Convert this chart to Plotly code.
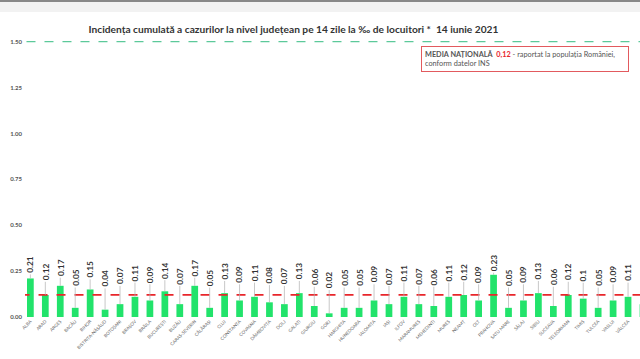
import plotly.graph_objects as go

counties = ["ALBA", "ARAD", "ARGEȘ", "BACĂU", "BIHOR", "BISTRIȚA-NĂSĂUD", "BOTOȘANI", "BRAȘOV",
            "BRĂILA", "BUCUREȘTI", "BUZĂU", "CARAȘ-SEVERIN", "CĂLĂRAȘI", "CLUJ", "CONSTANȚA",
            "COVASNA", "DÂMBOVIȚA", "DOLJ", "GALAȚI", "GIURGIU", "GORJ", "HARGHITA", "HUNEDOARA",
            "IALOMIȚA", "IAȘI", "ILFOV", "MARAMUREȘ", "MEHEDINȚI", "MUREȘ", "NEAMȚ", "OLT",
            "PRAHOVA", "SATU MARE", "SĂLAJ", "SIBIU", "SUCEAVA", "TELEORMAN", "TIMIȘ", "TULCEA",
            "VASLUI", "VÂLCEA", "VRANCEA"]
values = [0.21, 0.12, 0.17, 0.05, 0.15, 0.04, 0.07, 0.11, 0.09, 0.14, 0.07, 0.17, 0.05, 0.13,
          0.09, 0.11, 0.08, 0.07, 0.13, 0.06, 0.02, 0.05, 0.05, 0.09, 0.07, 0.11, 0.07, 0.06,
          0.11, 0.12, 0.09, 0.23, 0.05, 0.09, 0.13, 0.06, 0.12, 0.10, 0.05, 0.09, 0.11, 0.07]
national_avg = 0.12
threshold = 1.5
y_ticks = [0.0, 0.25, 0.5, 0.75, 1.0, 1.25, 1.5]
title = "Incidența cumulată a cazurilor la nivel județean pe 14 zile la ‰ de locuitori *  14 iunie 2021"

idx = list(range(len(counties)))
PX_PER_UNIT = 184.0

fig = go.Figure()
fig.add_trace(go.Bar(x=idx, y=values, marker_color="#22E36B", width=0.45,
                     marker_line_width=0, showlegend=False, hoverinfo="skip"))

xr = [-0.36, 40.8]
fig.add_shape(type="line", xref="x", yref="y", x0=xr[0] - 0.3, x1=xr[1], y0=national_avg, y1=national_avg,
              line=dict(color="#E8262B", width=1.8, dash="dash"))
fig.add_shape(type="line", xref="x", yref="y", x0=xr[0] + 0.1, x1=xr[1], y0=threshold, y1=threshold,
              line=dict(color="#5CC99A", width=1.2, dash="dash"))

for i, v in zip(idx, values):
    t = f"{v:g}"
    base = max(v + 0.01, 0.15 + 0.45 * v)
    half = 1.8 * len(t) + 0.5
    ay = -((base - v) * PX_PER_UNIT + half)
    fig.add_annotation(x=i, y=v, xref="x", yref="y", text=f"<b>{t}</b>", textangle=-90,
                       showarrow=True, arrowhead=0, arrowwidth=0.7, arrowcolor="#B0B0B0",
                       ax=0, ay=ay, standoff=0,
                       font=dict(family="Lato, Carlito, sans-serif", size=8.3, color="#333333"))

fig.add_annotation(xref="paper", yref="paper", x=0.644, y=0.971, xanchor="left", yanchor="top",
                   align="left", showarrow=False,
                   text=("<b>MEDIA NAȚIONALĂ</b>  <b><span style='color:#E8262B'>0,12</span></b>"
                         " - raportat la populația României,<br>conform datelor INS"),
                   font=dict(family="Lato, sans-serif", size=7.3, color="#555555"),
                   bordercolor="#E25A5E", borderwidth=1, borderpad=3, bgcolor="white",
                   width=200)

fig.update_layout(
    width=640, height=359,
    margin=dict(l=25, r=0, t=38, b=42, autoexpand=False),
    paper_bgcolor="white", plot_bgcolor="white",
    title=dict(text=f"<b>{title}</b>", x=0.4366, xanchor="center", xref="paper", y=0.919, yanchor="middle",
               font=dict(family="Lato, sans-serif", size=10.2, color="#333333")),
    bargap=0.5,
    xaxis=dict(range=xr, tickmode="array", tickvals=idx, ticktext=counties, tickangle=-45,
               tickfont=dict(family="Lato, sans-serif", size=4.5, color="#666666"),
               showgrid=False, zeroline=False, showline=False, ticks="", automargin=False),
    yaxis=dict(range=[0, 1.52], tickmode="array", tickvals=y_ticks,
               ticktext=[f"<b>{t:.2f}</b>" for t in y_ticks],
               tickfont=dict(family="Lato, sans-serif", size=6, color="#555555"),
               showgrid=False, zeroline=False, showline=False, ticks="", ticklabelstandoff=2,
               automargin=False),
)
fig.add_shape(type="rect", xref="paper", yref="paper", x0=-0.1, x1=1.1, y0=1.093, y1=1.14,
              fillcolor="#F2F2F2", line_width=0, layer="below")
fig.add_shape(type="line", xref="paper", yref="paper", x0=-0.1, x1=1.1, y0=1.133, y1=1.133,
              line=dict(color="#888888", width=2))

fig.write_html("out.html", config={"displayModeBar": False},
               post_script="document.body.style.margin='0px';")
